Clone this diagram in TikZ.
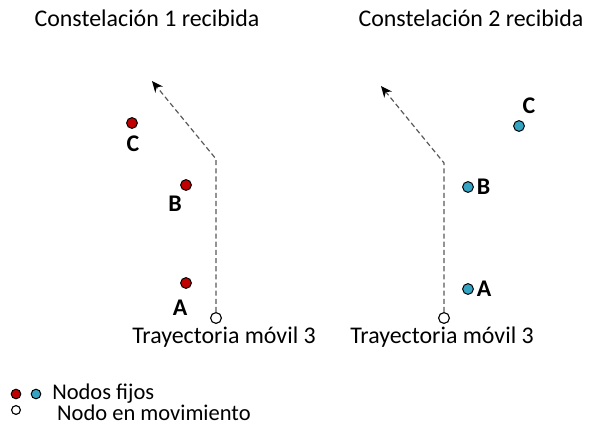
\documentclass[tikz,border=0pt]{standalone}
\usepackage{fontspec}
\setmainfont{Carlito}
\usepackage{tikz}
\usetikzlibrary{arrows.meta, positioning}
\definecolor{fixred}{HTML}{C00000}
\definecolor{fixcyan}{HTML}{35A3C2}
\definecolor{trajgray}{HTML}{595959}

\begin{document}
\begin{tikzpicture}[
  x=0.025cm, y=-0.025cm,
  fijo/.style={circle, draw=black, line width=0.7pt, inner sep=0pt, minimum size=0.27cm},
  movil/.style={circle, draw=black, fill=white, line width=0.8pt, inner sep=0pt, minimum size=0.27cm},
  letra/.style={font=\fontsize{17}{20}\selectfont\bfseries, inner sep=1pt},
  titulo/.style={font=\fontsize{17}{20}\selectfont, inner sep=0pt},
  leyenda/.style={font=\fontsize{16}{12.1}\selectfont, inner sep=0pt, align=left},
  traj/.style={draw=trajgray, dash pattern=on 3.6pt off 2.2pt, line width=0.85pt, -{Stealth[length=8pt, width=7pt, black]}}
]
  \useasboundingbox (0,0) rectangle (590,428);

  % titulos
  \node[titulo] (tit1) at (147,18) {Constelación 1 recibida};
  \node[titulo] (tit2) at (471,18) {Constelación 2 recibida};

  % constelacion 1
  \node[fijo, fill=fixred] (c1) at (132,123) {};
  \node[letra] (lc1) at (133,144) {C};
  \node[fijo, fill=fixred] (b1) at (186,185) {};
  \node[letra] (lb1) at (175,204) {B};
  \node[fijo, fill=fixred] (a1) at (186,283) {};
  \node[letra] (la1) at (180,308) {A};
  \node[movil] (m1) at (216,318) {};
  \coordinate (k1) at (216,159);
  \coordinate (t1) at (152,81);
  \draw[traj] (m1) -- (k1) -- (t1);
  \node[titulo] (tr1) at (224,337) {Trayectoria móvil 3};

  % constelacion 2
  \node[fijo, fill=fixcyan] (c2) at (519,126) {};
  \node[letra] (lc2) at (529,106) {C};
  \node[fijo, fill=fixcyan] (b2) at (468,187) {};
  \node[letra, right=1pt of b2] (lb2) {B};
  \node[fijo, fill=fixcyan] (a2) at (468,289) {};
  \node[letra, right=1pt of a2] (la2) {A};
  \node[movil] (m2) at (444,318) {};
  \coordinate (k2) at (444,163);
  \coordinate (t2) at (381,86);
  \draw[traj] (m2) -- (k2) -- (t2);
  \node[titulo] (tr2) at (442,337) {Trayectoria móvil 3};

  % leyenda
  \node[fijo, fill=fixred, minimum size=0.24cm] (lr) at (16,394) {};
  \node[fijo, fill=fixcyan, minimum size=0.24cm] (lz) at (36,394) {};
  \node[movil, minimum size=0.22cm] (lm) at (16,410) {};
  \node[leyenda, anchor=north west] (ley) at (52,384)
    {Nodos fijos\\\hspace{3.5pt}Nodo en movimiento};
\end{tikzpicture}
\end{document}
